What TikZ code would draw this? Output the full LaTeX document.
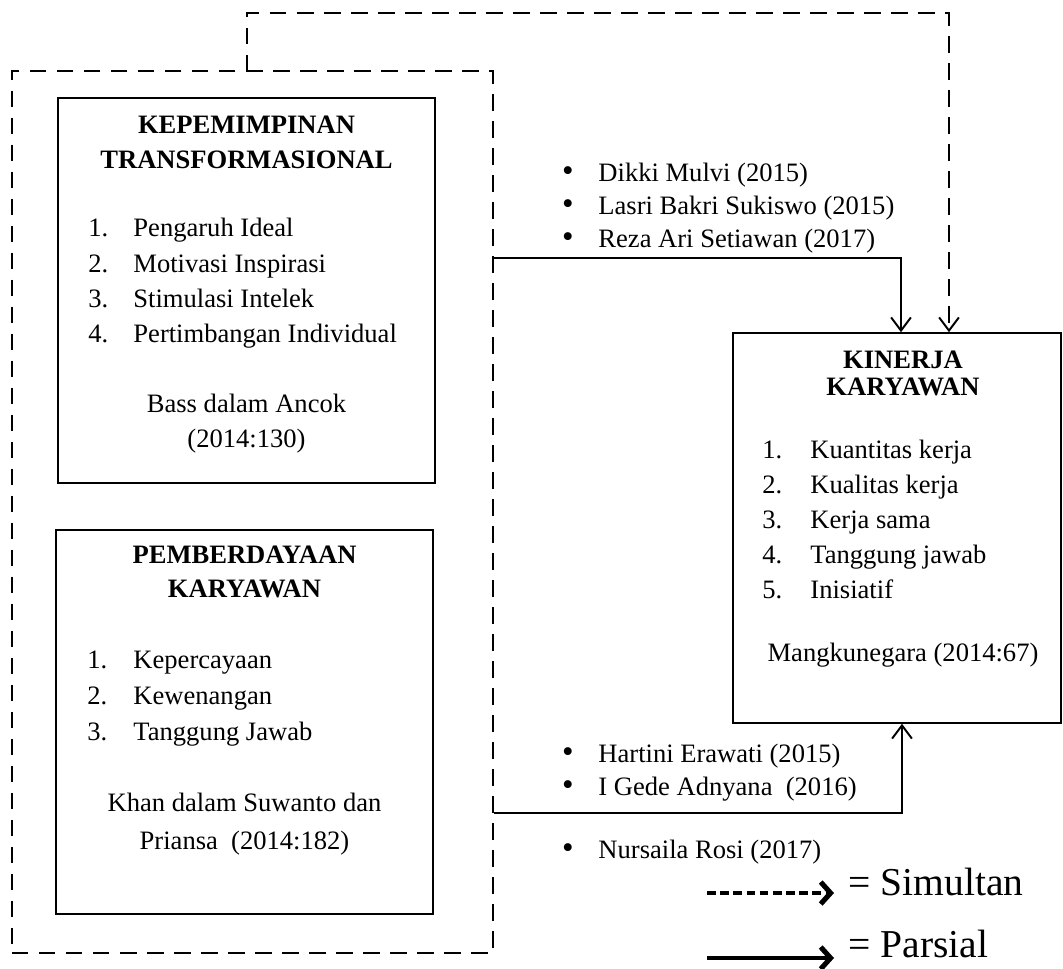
\documentclass[tikz,border=0pt]{standalone}
\usepackage{fontspec}
\setmainfont{Liberation Serif}
\usetikzlibrary{arrows.meta,fit,calc}
\begin{document}
\begin{tikzpicture}[x=0.016cm,y=-0.016cm,
  box/.style={draw, line width=0.7pt, inner sep=0pt},
  dbox/.style={draw, line width=0.7pt, dash pattern=on 7.5pt off 4.8pt, inner sep=0pt},
  txt/.style={font=\fontsize{12.1}{14}\selectfont, inner sep=0pt, text height=8pt, text depth=2pt, anchor=west},
  bul/.style={font=\fontsize{15}{14}\selectfont, inner sep=0pt, text height=8pt, text depth=2pt, anchor=center},
  ttl/.style={font=\fontsize{12.1}{14}\selectfont\bfseries, inner sep=0pt, text height=8pt, text depth=2pt, anchor=center},
  ctr/.style={font=\fontsize{12.1}{14}\selectfont, inner sep=0pt, text height=8pt, text depth=2pt, anchor=center},
  leg/.style={font=\fontsize{18}{20}\selectfont, inner sep=0pt, text height=12pt, text depth=3pt, anchor=west},
  conn/.style={line width=0.9pt, -{Straight Barb[length=6pt,width=9pt,line width=0.9pt]}},
  dconn/.style={conn, dash pattern=on 7.5pt off 4.8pt},
  legsolid/.style={line width=2pt, -{Straight Barb[length=4.5pt,width=10pt,line width=2.3pt]}},
  legdash/.style={legsolid, dash pattern=on 4pt off 2pt}
]
\useasboundingbox (0,0) rectangle (1063,969);

% containers
\node[dbox, fit={(12,71) (493,953)}] (outer) {};
\node[box, fit={(58,98) (435,483)}] (b1) {};
\node[box, fit={(56,530) (433,914)}] (b2) {};
\node[box, fit={(733,333) (1061,723)}] (kin) {};

% box 1
\node[ttl] (b1t1) at (246.5,127) {KEPEMIMPINAN};
\node[ttl] (b1t2) at (246.5,162) {TRANSFORMASIONAL};
\node[txt] (b1n1) at (88,230) {1.};
\node[txt] (b1i1) at (133,230) {Pengaruh Ideal};
\node[txt] (b1n2) at (88,266) {2.};
\node[txt] (b1i2) at (133,266) {Motivasi Inspirasi};
\node[txt] (b1n3) at (88,301) {3.};
\node[txt] (b1i3) at (133,301) {Stimulasi Intelek};
\node[txt] (b1n4) at (88,336) {4.};
\node[txt] (b1i4) at (133,336) {Pertimbangan Individual};
\node[ctr] (b1s1) at (246.5,406) {Bass dalam Ancok};
\node[ctr] (b1s2) at (246.5,441) {(2014:130)};

% box 2
\node[ttl] (b2t1) at (244.5,557) {PEMBERDAYAAN};
\node[ttl] (b2t2) at (244.5,591) {KARYAWAN};
\node[txt] (b2n1) at (87,662) {1.};
\node[txt] (b2i1) at (133,662) {Kepercayaan};
\node[txt] (b2n2) at (87,698) {2.};
\node[txt] (b2i2) at (133,698) {Kewenangan};
\node[txt] (b2n3) at (87,734) {3.};
\node[txt] (b2i3) at (133,734) {Tanggung Jawab};
\node[ctr] (b2s1) at (244.5,805) {Khan dalam Suwanto dan};
\node[ctr] (b2s2) at (244.5,843) {Priansa\ \ (2014:182)};

% kinerja
\node[ttl] (kt1) at (903,362) {KINERJA};
\node[ttl] (kt2) at (903,389) {KARYAWAN};
\node[txt] (kn1) at (762,452) {1.};
\node[txt] (ki1) at (810,452) {Kuantitas kerja};
\node[txt] (kn2) at (762,487) {2.};
\node[txt] (ki2) at (810,487) {Kualitas kerja};
\node[txt] (kn3) at (762,522) {3.};
\node[txt] (ki3) at (810,522) {Kerja sama};
\node[txt] (kn4) at (762,557) {4.};
\node[txt] (ki4) at (810,557) {Tanggung jawab};
\node[txt] (kn5) at (762,592) {5.};
\node[txt] (ki5) at (810,592) {Inisiatif};
\node[ctr] (ks) at (903,655) {Mangkunegara (2014:67)};

% bullets
\node[bul] (bu1) at (568,175) {\textbullet};
\node[txt] (r1) at (598,175) {Dikki Mulvi (2015)};
\node[bul] (bu2) at (568,208) {\textbullet};
\node[txt] (r2) at (598,208) {Lasri Bakri Sukiswo (2015)};
\node[bul] (bu3) at (568,241) {\textbullet};
\node[txt] (r3) at (598,241) {Reza Ari Setiawan (2017)};
\node[bul] (bu4) at (568,756) {\textbullet};
\node[txt] (r4) at (598,756) {Hartini Erawati (2015)};
\node[bul] (bu5) at (568,789) {\textbullet};
\node[txt] (r5) at (598,789) {I Gede Adnyana\ \ (2016)};
\node[bul] (bu6) at (568,852) {\textbullet};
\node[txt] (r6) at (598,852) {Nursaila Rosi (2017)};

% connectors
\coordinate (sstart) at (247,71);
\coordinate (st1) at (247,13);
\coordinate (st2) at (949,13);
\coordinate (k1) at (901,333);
\coordinate (k3) at (902,723);
\coordinate (p1) at (493,258);
\coordinate (p2) at (493,813);
\draw[dconn] (sstart) -- (st1) -- (st2) -- (st2 |- kin.north);
\draw[conn] (outer.east |- p1) -| (k1 |- kin.north);
\draw[conn] (outer.east |- p2) -| (k3 |- kin.south);

% legend
\coordinate (ld1) at (707,893);
\coordinate (ld2) at (834,893);
\coordinate (ls1) at (707,958);
\coordinate (ls2) at (834,958);
\draw[legdash] (ld1) -- (ld2);
\draw[legsolid] (ls1) -- (ls2);
\node[leg] (lt1) at (848,886) {= Simultan};
\node[leg] (lt2) at (848,948) {= Parsial};
\end{tikzpicture}
\end{document}
